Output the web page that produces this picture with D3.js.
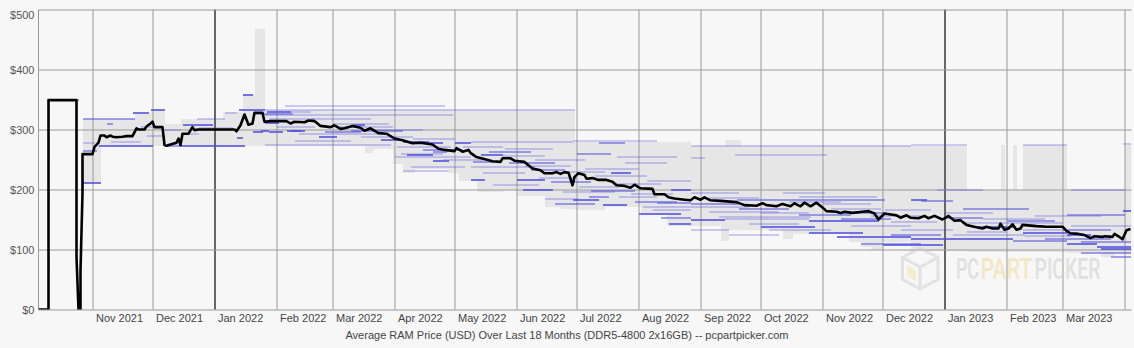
<!DOCTYPE html>
<html><head><meta charset="utf-8">
<script src="https://cdn.jsdelivr.net/npm/d3@7"></script>
<style>
html,body{margin:0;padding:0;background:#f7f7f7;}
svg{display:block;}
text{font-family:"Liberation Sans",Arial,sans-serif;}
</style></head><body>
<svg id="chart" width="1134" height="348"></svg>
<script>
// ---------- DATA ----------
const priceTicks = [0, 100, 200, 300, 400, 500];
const monthTicks = ["2021-11-01","2021-12-01","2022-01-01","2022-02-01","2022-03-01","2022-04-01","2022-05-01","2022-06-01","2022-07-01","2022-08-01","2022-09-01","2022-10-01","2022-11-01","2022-12-01","2023-01-01","2023-02-01","2023-03-01","2023-04-01"];
const monthLabels = ["Nov 2021","Dec 2021","Jan 2022","Feb 2022","Mar 2022","Apr 2022","May 2022","Jun 2022","Jul 2022","Aug 2022","Sep 2022","Oct 2022","Nov 2022","Dec 2022","Jan 2023","Feb 2023","Mar 2023",""];
const titleText = "Average RAM Price (USD) Over Last 18 Months (DDR5-4800 2x16GB) -- pcpartpicker.com";
const periodStart = "2021-10-05", periodEnd = "2023-04-04";
const watermarkParts = ["PC", "PART", "PICKER"];

// average price line
const avgDates = ["2021-10-05","2021-10-10","2021-10-10","2021-10-24","2021-10-24","2021-10-25","2021-10-26","2021-10-26","2021-10-27","2021-10-27","2021-11-01","2021-11-02","2021-11-04","2021-11-05","2021-11-07","2021-11-08","2021-11-10","2021-11-11","2021-11-13","2021-11-16","2021-11-18","2021-11-21","2021-11-23","2021-11-24","2021-11-27","2021-11-28","2021-11-30","2021-12-01","2021-12-02","2021-12-06","2021-12-07","2021-12-08","2021-12-10","2021-12-13","2021-12-14","2021-12-15","2021-12-16","2021-12-19","2021-12-21","2021-12-22","2021-12-24","2022-01-11","2022-01-12","2022-01-14","2022-01-16","2022-01-18","2022-01-20","2022-01-21","2022-01-25","2022-01-26","2022-01-29","2022-02-06","2022-02-08","2022-02-10","2022-02-15","2022-02-17","2022-02-20","2022-02-23","2022-02-28","2022-03-02","2022-03-05","2022-03-07","2022-03-11","2022-03-15","2022-03-17","2022-03-20","2022-03-24","2022-03-28","2022-04-01","2022-04-05","2022-04-10","2022-04-14","2022-04-20","2022-04-23","2022-04-26","2022-05-01","2022-05-02","2022-05-05","2022-05-08","2022-05-09","2022-05-12","2022-05-20","2022-05-24","2022-05-25","2022-05-29","2022-05-31","2022-06-05","2022-06-09","2022-06-13","2022-06-15","2022-06-19","2022-06-21","2022-06-23","2022-06-25","2022-06-27","2022-06-29","2022-06-30","2022-07-02","2022-07-05","2022-07-06","2022-07-09","2022-07-12","2022-07-16","2022-07-19","2022-07-21","2022-07-25","2022-07-28","2022-07-30","2022-08-02","2022-08-08","2022-08-09","2022-08-14","2022-08-16","2022-08-19","2022-08-24","2022-08-27","2022-08-29","2022-09-01","2022-09-03","2022-09-06","2022-09-11","2022-09-19","2022-09-23","2022-09-29","2022-10-02","2022-10-04","2022-10-09","2022-10-12","2022-10-16","2022-10-18","2022-10-21","2022-10-23","2022-10-26","2022-10-29","2022-11-01","2022-11-03","2022-11-08","2022-11-10","2022-11-12","2022-11-16","2022-11-21","2022-11-24","2022-11-27","2022-11-29","2022-12-02","2022-12-06","2022-12-08","2022-12-10","2022-12-13","2022-12-15","2022-12-19","2022-12-22","2022-12-24","2022-12-27","2022-12-31","2023-01-03","2023-01-06","2023-01-09","2023-01-10","2023-01-12","2023-01-17","2023-01-20","2023-01-22","2023-01-25","2023-01-28","2023-01-29","2023-01-31","2023-02-02","2023-02-04","2023-02-06","2023-02-08","2023-02-09","2023-02-16","2023-02-21","2023-03-01","2023-03-03","2023-03-05","2023-03-09","2023-03-12","2023-03-15","2023-03-17","2023-03-21","2023-03-22","2023-03-26","2023-03-27","2023-03-29","2023-03-31","2023-04-02","2023-04-04"];
const avgPrices = [0,0,349,349,88,0,0,64,194,259,259,271,278,290,290,287,290,288,287,288,289,289,302,300,300,305,310,313,304,304,274,273,275,278,285,274,293,293,304,299,300,300,297,307,325,308,310,328,328,313,314,314,310,313,312,315,314,306,304,307,301,302,306,303,298,302,294,293,285,282,277,278,275,268,266,264,269,263,266,261,254,247,246,252,252,248,246,235,232,227,227,229,226,229,228,207,221,227,224,218,219,216,216,213,207,206,203,208,202,201,192,192,187,185,183,182,187,183,187,182,181,179,174,173,177,174,172,176,172,177,172,178,172,178,170,164,163,161,163,161,163,164,160,150,160,158,157,153,157,153,152,156,152,156,150,156,148,149,146,141,137,135,138,135,135,143,133,135,142,133,135,141,139,138,138,131,127,126,124,119,122,121,122,121,126,122,117,132,134];

// min / max price range (step)
const rangeDates = ["2021-10-27","2021-11-05","2021-11-22","2021-11-30","2021-12-07","2021-12-15","2022-01-05","2022-01-15","2022-01-21","2022-01-26","2022-03-17","2022-03-21","2022-03-31","2022-04-05","2022-04-11","2022-04-28","2022-05-03","2022-05-12","2022-05-25","2022-06-01","2022-06-15","2022-06-23","2022-06-30","2022-07-15","2022-08-02","2022-08-15","2022-08-27","2022-09-11","2022-09-13","2022-09-15","2022-09-21","2022-10-12","2022-10-17","2022-11-14","2022-11-20","2022-11-25","2022-12-01","2022-12-15","2023-01-12","2023-01-29","2023-01-31","2023-02-04","2023-02-06","2023-02-09","2023-03-03","2023-03-20","2023-03-27","2023-04-01","2023-04-04"];
const rangeLow = [211,272,272,272,272,272,272,272,272,272,261,268,243,227,234,227,215,196,200,190,171,168,166,171,157,140,140,115,115,132,132,118,126,112,105,99,112,97,96,96,96,96,96,96,95,88,93,93,93];
const rangeHigh = [318,318,328,333,309,318,329,360,468,333,333,333,333,333,333,333,333,333,333,333,333,333,279,279,279,279,272,272,282,282,272,272,272,272,272,272,272,272,199,274,199,274,199,275,199,199,199,275,275];

// retailer offers: [from, to, price, number of listings]
const offers2021 = [
 ["2021-10-24","2021-10-25",349,2],["2021-10-27","2021-11-05",211,3],["2021-10-27","2021-11-22",318,2],["2021-10-27","2021-11-02",278,1],
 ["2021-10-27","2021-11-03",265,2],["2021-11-04","2021-12-01",272,3],["2021-11-10","2021-11-25",279,1],["2021-11-08","2021-11-11",310,2],
 ["2021-11-21","2021-11-29",328,3],["2021-11-30","2021-12-07",333,3],["2021-11-25","2021-12-02",305,1],["2021-11-28","2021-12-06",289,1],
 ["2021-12-07","2021-12-15",272,2],["2021-12-15","2022-01-12",272,3],["2021-12-16","2021-12-31",308,3],["2021-12-23","2022-01-06",318,1],
 ["2021-12-15","2021-12-24",293,1],["2021-12-07","2021-12-15",300,1]
];
const offers2022a = [
 ["2021-12-24","2022-01-10",302,1],["2022-01-06","2022-01-12",328,1],["2022-01-12","2022-01-16",272,3],["2022-01-12","2022-01-15",286,3],
 ["2022-01-15","2022-01-20",358,3],["2022-01-13","2022-01-26",333,3],["2022-01-27","2022-02-08",329,3],["2022-02-08","2022-02-18",329,1],
 ["2022-01-20","2022-01-25",296,3],["2022-01-28","2022-02-04",296,3],["2022-02-06","2022-02-15",297,3],["2022-02-22","2022-03-03",288,3],
 ["2022-01-26","2022-06-30",333,1],["2022-02-05","2022-04-26",339,1],["2022-01-20","2022-02-09",326,2],["2022-01-26","2022-04-30",324,1],
 ["2022-01-26","2022-02-02",311,3],["2022-01-24","2022-01-28",298,3],["2022-02-08","2022-02-13",298,3],["2022-01-26","2022-03-30",274,1],
 ["2022-03-03","2022-03-31",304,1],["2022-03-11","2022-03-17",308,3],["2022-03-25","2022-04-03",283,3],["2022-04-05","2022-04-18",279,3],
 ["2022-04-18","2022-04-25",277,3],["2022-04-02","2022-04-29",270,1],["2022-04-04","2022-04-25",260,1],["2022-04-07","2022-04-20",257,3],
 ["2022-04-20","2022-04-28",247,3],["2022-05-01","2022-05-09",277,3],["2022-04-20","2022-04-27",263,2],["2022-04-01","2022-05-09",254,1],
 ["2022-04-09","2022-05-06",238,1],["2022-02-18","2022-03-20",317,1],["2022-03-01","2022-03-29",310,1],["2022-02-10","2022-03-10",281,1],
 ["2022-03-05","2022-03-25",292,1],["2022-04-05","2022-04-28",231,1],
 ["2022-02-01","2022-02-20",305,1],["2022-02-12","2022-03-05",293,1],["2022-03-10","2022-04-05",297,2],["2022-03-15","2022-04-10",287,1],
 ["2022-03-20","2022-04-15",300,1],["2022-04-10","2022-05-01",285,1],["2022-04-15","2022-05-05",266,2],["2022-04-25","2022-05-15",250,1],
 ["2022-01-28","2022-02-20",318,1],["2022-02-25","2022-03-15",296,2]
];
const offers2022b = [
 ["2022-05-09","2022-06-29",279,1],["2022-06-29","2022-08-10",280,1],["2022-07-12","2022-07-25",278,2],["2022-05-14","2022-05-25",258,3],
 ["2022-05-26","2022-06-19",267,1],["2022-07-01","2022-07-18",260,2],["2022-07-21","2022-08-20",254,1],["2022-07-18","2022-07-28",228,3],
 ["2022-06-01","2022-06-15",216,3],["2022-06-04","2022-06-19",199,3],["2022-06-29","2022-07-12",182,3],["2022-07-07","2022-07-17",187,2],
 ["2022-07-14","2022-07-26",174,3],["2022-08-01","2022-08-22",159,3],["2022-08-16","2022-08-27",143,3],["2022-08-17","2022-08-27",199,3],
 ["2022-05-10","2022-05-23",246,2],["2022-05-09","2022-05-16",216,3],["2022-05-09","2022-06-10",238,1],["2022-05-15","2022-06-05",228,1],
 ["2022-05-20","2022-06-12",208,1],["2022-06-05","2022-06-28",240,1],["2022-06-10","2022-07-05",250,1],["2022-06-15","2022-07-02",185,1],
 ["2022-06-20","2022-07-10",176,2],["2022-06-24","2022-07-20",196,1],["2022-07-05","2022-08-01",235,1],["2022-07-10","2022-08-05",222,1],
 ["2022-07-20","2022-08-12",210,1],["2022-07-28","2022-08-18",192,1],["2022-08-03","2022-08-27",170,1],["2022-08-10","2022-08-27",178,2],
 ["2022-08-05","2022-08-27",215,1],["2022-07-25","2022-08-15",245,1],["2022-05-25","2022-06-15",256,1],
 ["2022-05-05","2022-05-25",270,1],["2022-05-18","2022-06-08",262,2],["2022-05-28","2022-06-20",244,2],["2022-06-08","2022-06-25",232,2],
 ["2022-06-12","2022-07-01",220,1],["2022-06-18","2022-07-08",212,2],["2022-06-25","2022-07-15",230,1],["2022-07-02","2022-07-22",205,1],
 ["2022-07-08","2022-07-30",198,2],["2022-07-22","2022-08-10",188,1],["2022-07-30","2022-08-20",180,2],["2022-08-08","2022-08-27",165,1],
 ["2022-08-12","2022-08-27",152,2]
];
const offers2022c = [
 ["2022-08-27","2022-12-15",272,1],["2022-09-18","2022-11-03",258,1],["2022-08-27","2022-09-03",252,1],["2022-09-19","2022-12-02",182,2],
 ["2022-08-27","2022-09-13",149,3],["2022-09-13","2022-10-25",150,1],["2022-10-25","2022-11-29",147,3],["2022-10-01","2022-10-28",137,3],
 ["2022-10-25","2022-11-21",128,3],["2022-11-08","2022-12-15",121,3],["2022-08-27","2022-09-25",170,1],["2022-09-10","2022-10-26",154,1],
 ["2022-10-20","2022-11-28",188,1],["2022-08-27","2022-09-20",194,1],["2022-11-08","2022-12-02",160,2],["2022-09-05","2022-10-10",163,1],
 ["2022-09-25","2022-10-20",143,1],["2022-10-05","2022-11-05",132,1],["2022-11-15","2022-12-15",140,1],["2022-11-20","2022-12-20",110,2],
 ["2022-12-01","2022-12-31",107,3],["2022-08-27","2022-09-15",132,1],["2022-09-15","2022-10-10",125,1],["2022-10-12","2022-11-02",195,1],
 ["2022-11-01","2022-11-25",176,1],["2022-12-02","2022-12-25",165,1],["2022-12-05","2022-12-28",145,1],["2022-12-10","2023-01-05",133,1],
 ["2022-08-27","2022-09-20",176,2],["2022-09-05","2022-09-30",186,1],["2022-09-20","2022-10-15",168,2],["2022-10-01","2022-10-25",160,1],
 ["2022-10-15","2022-11-10",180,1],["2022-10-20","2022-11-15",157,2],["2022-11-05","2022-11-30",168,1],["2022-11-10","2022-12-05",150,2],
 ["2022-11-25","2022-12-20",155,1],["2022-12-05","2022-12-30",125,2]
];
const offers2023 = [
 ["2022-12-15","2023-01-12",274,1],["2023-02-09","2023-03-03",274,1],["2023-03-31","2023-04-04",275,1],["2022-12-15","2022-12-23",182,3],
 ["2022-12-20","2023-01-05",181,2],["2023-01-10","2023-02-12",167,2],["2023-03-03","2023-04-01",157,2],["2023-03-31","2023-04-04",164,3],
 ["2023-01-10","2023-03-01",144,1],["2023-01-15","2023-02-05",137,3],["2023-02-09","2023-03-03",127,3],["2022-12-15","2023-02-04",118,3],
 ["2023-03-03","2023-03-15",124,3],["2023-03-03","2023-03-18",109,3],["2023-03-18","2023-04-04",105,3],["2023-03-20","2023-04-04",101,3],
 ["2023-02-04","2023-03-03",114,2],["2023-02-09","2023-03-01",132,1],["2023-01-01","2023-01-25",160,1],["2023-01-20","2023-02-20",150,1],
 ["2023-02-15","2023-03-20",155,1],["2023-03-05","2023-04-04",140,1],["2023-03-10","2023-04-04",95,2],["2023-03-25","2023-04-04",88,2],
 ["2023-01-05","2023-02-10",125,1],["2023-02-20","2023-03-25",118,2],["2022-12-28","2023-01-20",199,1],["2023-03-05","2023-04-01",199,1],
 ["2023-01-01","2023-01-20",152,2],["2023-01-12","2023-02-01",130,1],["2023-02-01","2023-02-25",148,2],["2023-02-10","2023-03-05",122,1],
 ["2023-03-01","2023-03-25",133,2],["2023-03-10","2023-04-04",113,2]
];

// ---------- CHART ----------
const parse = d3.utcParse("%Y-%m-%d");
const svg = d3.select("#chart");
const W = 1134, H = 348;
const pL = 38.5, pR = 1131.5, pT = 9.5, pB = 309.5;

svg.append("rect").attr("width", W).attr("height", H).attr("fill", "#f7f7f7");

const endDate = parse(periodEnd); endDate.setUTCHours(12);
const x = d3.scaleUtc().domain([parse(periodStart), endDate]).range([pL, pR]);
const y = d3.scaleLinear().domain([0, 500]).range([pB, pT]);

svg.append("defs").append("clipPath").attr("id", "plot")
  .append("rect").attr("x", pL).attr("y", pT).attr("width", pR - pL).attr("height", pB - pT);

const plot = svg.append("g").attr("clip-path", "url(#plot)");

// range band
const rangeData = rangeDates.map((d, i) => ({ date: parse(d), lo: rangeLow[i], hi: rangeHigh[i] }));
plot.append("path").datum(rangeData)
  .attr("d", d3.area().curve(d3.curveStepAfter).x(d => x(d.date)).y0(d => y(d.lo)).y1(d => y(d.hi)))
  .attr("fill", "#e6e6e6").attr("shape-rendering", "crispEdges");

// grid via axes
const xAxis = d3.axisBottom(x)
  .tickValues(monthTicks.map(parse))
  .tickSize(-(pB - pT))
  .tickPadding(5)
  .tickFormat((d, i) => monthLabels[i]);
const gx = svg.append("g").attr("transform", `translate(0,${pB})`).call(xAxis);
gx.select(".domain").remove();
gx.selectAll(".tick line")
  .attr("stroke", (d) => d.getUTCMonth() === 0 ? "#666" : "#999")
  .attr("stroke-width", (d) => d.getUTCMonth() === 0 ? 2 : 1);
gx.selectAll(".tick text")
  .attr("text-anchor", "start").attr("x", 3)
  .attr("fill", "#444").style("font-size", "11px")
  .style("font-family", '"Liberation Sans", Arial, sans-serif');

const yAxis = d3.axisLeft(y)
  .tickValues(priceTicks)
  .tickSize(-(pR - pL))
  .tickPadding(4)
  .tickFormat(d => "$" + d);
const gy = svg.append("g").attr("transform", `translate(${pL},0)`).call(yAxis);
gy.select(".domain").attr("stroke", "#999").attr("d", `M0,${pT}V${pB}`);
gy.selectAll(".tick line").attr("stroke", "#999");
gy.selectAll(".tick text")
  .attr("fill", "#555").style("font-size", "11px")
  .style("font-family", '"Liberation Sans", Arial, sans-serif')
  .attr("y", d => d === 500 ? 5.5 : 0);

// retailer offer segments
const listingOpacity = [0, 0.28, 0.52, 0.78];
const offers = [].concat(offers2021, offers2022a, offers2022b, offers2022c, offers2023);
const segG = svg.append("g").attr("clip-path", "url(#plot)");
segG.selectAll("line").data(offers).join("line")
  .attr("x1", d => x(parse(d[0])))
  .attr("x2", d => x(parse(d[1])))
  .attr("y1", d => Math.round(y(d[2])))
  .attr("y2", d => Math.round(y(d[2])))
  .attr("stroke", "rgb(80,80,222)")
  .attr("stroke-opacity", d => listingOpacity[d[3]])
  .attr("stroke-width", 2)
  .attr("shape-rendering", "crispEdges");

// average line
const avgData = avgDates.map((d, i) => ({ date: parse(d), v: avgPrices[i] }));
svg.append("g").attr("clip-path", "url(#plot)").append("path").datum(avgData)
  .attr("d", d3.line().x(d => x(d.date)).y(d => y(d.v)))
  .attr("fill", "none").attr("stroke", "#000").attr("stroke-width", 2.6)
  .attr("stroke-linejoin", "round");

// watermark
const wm = svg.append("g").attr("opacity", 0.55);
wm.append("path")
  .attr("d", "M920,248 L938,257.5 L938,279.5 L920,289 L902.5,279.5 L902.5,257.5 Z M902.5,257.5 L920,267 L938,257.5 M920,267 L920,289")
  .attr("fill", "none").attr("stroke", "#d2d2d2").attr("stroke-width", 3).attr("stroke-linejoin", "round");
wm.append("path").attr("d", "M907,265 L916,270 L916,281 L907,276 Z").attr("fill", "#f3e6b0");
const wmX = [956, 980.5, 1034.5], wmFill = ["#cfcfcf", "#f0dc9c", "#cfcfcf"];
const wmSlotW = [23, 52, 66];
watermarkParts.forEach((t, i) => {
  const g = wm.append("g").attr("transform", `translate(${wmX[i]},278.5)`);
  const txt = g.append("text").attr("x", 0).attr("y", 0)
    .attr("fill", wmFill[i])
    .style("font-family", "Roboto, 'Liberation Sans', sans-serif").style("font-size", "29px").style("font-weight", 500)
    .text(t);
  const natural = txt.node().getComputedTextLength();
  g.attr("transform", `translate(${wmX[i]},278.5) scale(${wmSlotW[i] / natural},1)`);
});

// title
svg.append("text").attr("x", 567).attr("y", 339)
  .attr("text-anchor", "middle").attr("fill", "#444")
  .style("font-size", "11px").text(titleText);
</script>
</body></html>
